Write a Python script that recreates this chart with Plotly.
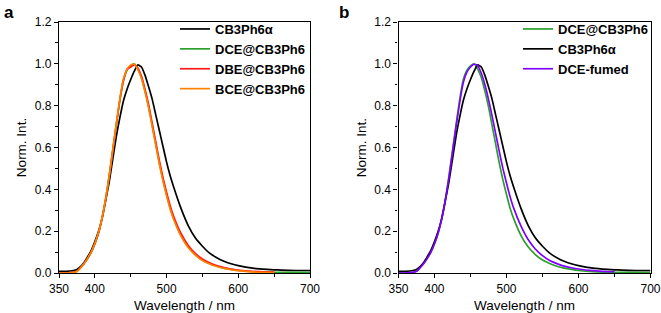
import plotly.graph_objects as go

# Wavelength grid (nm)
wl = [350, 360, 370, 375, 380, 385, 390, 395, 400, 405, 410, 415, 420, 425, 430, 435,
      440, 445, 450, 455, 460, 465, 470, 475, 480, 485, 490, 495, 500, 505, 510, 520,
      530, 540, 550, 560, 570, 580, 590, 600, 620, 640, 650, 660, 680, 700]

cb3ph6a = [0.008, 0.008, 0.012, 0.017, 0.030, 0.050, 0.078, 0.108, 0.150, 0.198, 0.260, 0.345,
           0.435, 0.545, 0.655, 0.745, 0.825, 0.880, 0.925, 0.965, 0.995, 0.985, 0.945, 0.890,
           0.830, 0.755, 0.680, 0.605, 0.530, 0.465, 0.410, 0.310, 0.228, 0.168, 0.128, 0.095,
           0.073, 0.056, 0.044, 0.035, 0.023, 0.017, 0.015, 0.014, 0.012, 0.012]

dce = [0.000, 0.000, 0.003, 0.008, 0.025, 0.045, 0.070, 0.100, 0.140, 0.190, 0.260, 0.350,
       0.460, 0.585, 0.710, 0.830, 0.925, 0.970, 0.990, 1.000, 0.975, 0.935, 0.870, 0.795,
       0.705, 0.615, 0.525, 0.445, 0.375, 0.310, 0.260, 0.180, 0.125, 0.088, 0.062, 0.045,
       0.032, 0.023, 0.017, 0.012, 0.006, 0.004, 0.003, 0.003, 0.003, 0.003]

wl_short = wl[:43]  # series recorded up to 650 nm

dbe = [0.000, 0.000, 0.003, 0.008, 0.025, 0.045, 0.070, 0.100, 0.140, 0.190, 0.262, 0.352,
       0.462, 0.588, 0.712, 0.830, 0.920, 0.975, 0.985, 0.995, 0.980, 0.940, 0.878, 0.805,
       0.715, 0.625, 0.536, 0.456, 0.386, 0.322, 0.270, 0.190, 0.133, 0.094, 0.067, 0.049,
       0.035, 0.026, 0.019, 0.014, 0.008, 0.005, 0.004]

bce = [0.000, 0.000, 0.002, 0.007, 0.024, 0.045, 0.071, 0.101, 0.142, 0.193, 0.264, 0.355,
       0.465, 0.590, 0.715, 0.835, 0.930, 0.975, 0.995, 0.998, 0.972, 0.930, 0.865, 0.790,
       0.700, 0.610, 0.520, 0.440, 0.370, 0.306, 0.256, 0.177, 0.122, 0.086, 0.060, 0.043,
       0.031, 0.022, 0.016, 0.011, 0.005, 0.003, 0.002]

dce_fumed = [0.000, 0.000, 0.003, 0.008, 0.025, 0.045, 0.070, 0.100, 0.140, 0.190, 0.258, 0.346,
             0.455, 0.578, 0.700, 0.815, 0.910, 0.960, 0.985, 0.998, 0.992, 0.955, 0.900, 0.830,
             0.750, 0.665, 0.580, 0.500, 0.430, 0.365, 0.310, 0.225, 0.160, 0.115, 0.083, 0.060,
             0.045, 0.033, 0.025, 0.019, 0.011, 0.007, 0.006]

x_ticks = [350, 400, 500, 600, 700]
x_minor = [450, 550, 650]

FONT = "Liberation Sans, Arial, sans-serif"
LW = 1.7
SM = 0.5

fig = go.Figure()

def line(color):
    return dict(color=color, width=LW, shape="spline", smoothing=SM)

# Panel a
fig.add_trace(go.Scatter(x=wl, y=cb3ph6a, name="CB3Ph6α", mode="lines", line=line("black"), xaxis="x", yaxis="y", legend="legend"))
fig.add_trace(go.Scatter(x=wl, y=dce, name="DCE@CB3Ph6", mode="lines", line=line("#2ca02c"), xaxis="x", yaxis="y", legend="legend"))
fig.add_trace(go.Scatter(x=wl_short, y=dbe, name="DBE@CB3Ph6", mode="lines", line=line("#ff1a1a"), xaxis="x", yaxis="y", legend="legend"))
fig.add_trace(go.Scatter(x=wl_short, y=bce, name="BCE@CB3Ph6", mode="lines", line=line("#ff8000"), xaxis="x", yaxis="y", legend="legend"))

# Panel b
fig.add_trace(go.Scatter(x=wl, y=dce, name="DCE@CB3Ph6", mode="lines", line=line("#2ca02c"), xaxis="x2", yaxis="y2", legend="legend2"))
fig.add_trace(go.Scatter(x=wl, y=cb3ph6a, name="CB3Ph6α", mode="lines", line=line("black"), xaxis="x2", yaxis="y2", legend="legend2"))
fig.add_trace(go.Scatter(x=wl_short, y=dce_fumed, name="DCE-fumed", mode="lines", line=line("#8000ff"), xaxis="x2", yaxis="y2", legend="legend2"))

W, H = 661, 313

def px_x(p):
    return p / W

def px_y(p):
    return 1 - p / H

ydom = [px_y(273), px_y(22)]

def xaxis(domain, anchor):
    return dict(domain=domain, anchor=anchor, range=[350, 700], tickmode="array", tickvals=x_ticks,
                automargin=False,
                ticks="outside", ticklen=4, tickwidth=1.2, tickcolor="black",
                minor=dict(tickvals=x_minor, ticks="outside", ticklen=2.5, tickwidth=1.2, tickcolor="black"),
                showline=True, linecolor="black", linewidth=1.4, mirror=True, showgrid=False, zeroline=False,
                tickfont=dict(family=FONT, size=12, color="black"),
                title=dict(text="Wavelength / nm", font=dict(family=FONT, size=13.5, color="black"), standoff=6))

def yaxis(domain, anchor):
    return dict(domain=domain, anchor=anchor, range=[0, 1.2], dtick=0.2, tick0=0, tickformat=".1f",
                automargin=False,
                ticks="outside", ticklen=4, tickwidth=1.2, tickcolor="black",
                minor=dict(dtick=0.1, ticks="outside", ticklen=2.5, tickwidth=1.2, tickcolor="black"),
                showline=True, linecolor="black", linewidth=1.4, mirror=True, showgrid=False, zeroline=False,
                tickfont=dict(family=FONT, size=12, color="black"),
                title=dict(text="Norm. Int.", font=dict(family=FONT, size=13.5, color="black"), standoff=4))

legfont = dict(family=FONT, size=13, color="black", weight="bold")

fig.update_layout(
    width=W, height=H,
    margin=dict(l=0, r=0, t=0, b=0, autoexpand=False),
    paper_bgcolor="white", plot_bgcolor="white",
    xaxis=xaxis([px_x(59), px_x(310)], "y"),
    yaxis=yaxis(ydom, "x"),
    xaxis2=xaxis([px_x(398.5), px_x(650.5)], "y2"),
    yaxis2=yaxis(ydom, "x2"),
    legend=dict(x=px_x(175), y=px_y(14), xanchor="left", yanchor="top", bgcolor="rgba(0,0,0,0)",
                font=legfont, itemwidth=30, tracegroupgap=0),
    legend2=dict(x=px_x(518), y=px_y(14), xanchor="left", yanchor="top", bgcolor="rgba(0,0,0,0)",
                 font=legfont, itemwidth=30, tracegroupgap=0),
    annotations=[
        dict(text="<b>a</b>", x=px_x(2), y=px_y(1), xref="paper", yref="paper", xanchor="left", yanchor="top",
             showarrow=False, font=dict(family=FONT, size=17, color="black")),
        dict(text="<b>b</b>", x=px_x(337), y=px_y(1), xref="paper", yref="paper", xanchor="left", yanchor="top",
             showarrow=False, font=dict(family=FONT, size=17, color="black")),
    ],
)

fig.write_html("out.html", config={"displayModeBar": False},
               post_script="document.body.style.margin='0';document.body.style.padding='0';")
